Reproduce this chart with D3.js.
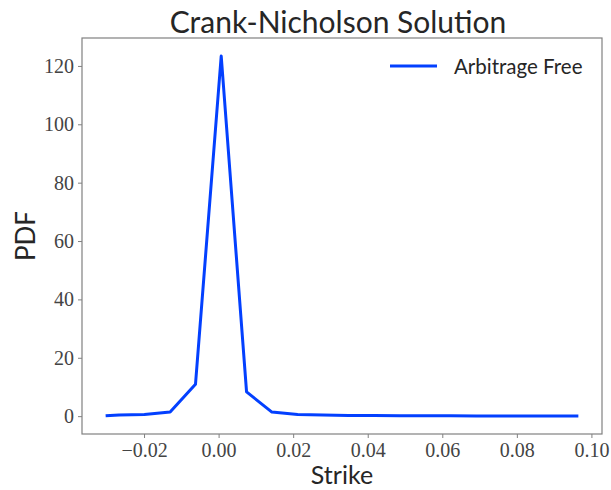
<!DOCTYPE html>
<html>
<head>
<meta charset="utf-8">
<script src="https://cdn.jsdelivr.net/npm/d3@7"></script>
<style>
  body { margin: 0; background: #fff; }
  .tick text { font-family: "Liberation Serif", "DejaVu Serif", serif; fill: #444; }
  .lbl { font-family: Lato, "Open Sans", sans-serif; fill: #262626; }
</style>
</head>
<body>
<div id="chart"></div>
<script>
// chart data
var strike = [-0.0303, -0.0267, -0.0199, -0.0130, -0.0062, 0.0007, 0.0075, 0.0143, 0.0212,
              0.0280, 0.0349, 0.0417, 0.0486, 0.0554, 0.0623, 0.0691, 0.0760, 0.0828, 0.0897, 0.0965];
var pdf = [0.1, 0.4, 0.6, 1.4, 10.9, 123.4, 8.3, 1.4, 0.6,
           0.35, 0.25, 0.2, 0.15, 0.12, 0.1, 0.09, 0.08, 0.07, 0.06, 0.05];
var xTicks = [-0.02, 0.00, 0.02, 0.04, 0.06, 0.08, 0.10];
var yTicks = [0, 20, 40, 60, 80, 100, 120];
var seriesName = "Arbitrage Free";

var svgWidth = 611;
var svgHeight = 490;
var margin = { top: 38, right: 9, bottom: 56, left: 82 };
var width = svgWidth - margin.left - margin.right;
var height = svgHeight - margin.top - margin.bottom;

var svg = d3.select("#chart").append("svg")
    .attr("width", svgWidth)
    .attr("height", svgHeight);

var data = strike.map((s, i) => ({ x: s, y: pdf[i] }));

// matplotlib style 5% padding around the data
var pad = (ext) => { var m = (ext[1] - ext[0]) * 0.05; return [ext[0] - m, ext[1] + m]; };

var x = d3.scaleLinear().domain(pad(d3.extent(strike))).range([0, width]);
var y = d3.scaleLinear().domain(pad(d3.extent(pdf))).range([height, 0]);

var g = svg.append("g").attr("transform", `translate(${margin.left},${margin.top})`);

var fmtX = d => d3.format(".2f")(d).replace("-", "\u2212");

var xAxisG = g.append("g")
    .attr("transform", `translate(0,${height})`)
    .call(d3.axisBottom(x).tickValues(xTicks).tickFormat(fmtX).tickSize(4).tickPadding(5));
var yAxisG = g.append("g")
    .call(d3.axisLeft(y).tickValues(yTicks).tickFormat(d3.format("d")).tickSize(4).tickPadding(4));

[xAxisG, yAxisG].forEach(a => {
    a.select(".domain").remove();
    a.selectAll(".tick line").attr("stroke", "#808080");
    a.selectAll(".tick text").attr("font-size", 20);
});

// frame
g.append("rect")
    .attr("width", width)
    .attr("height", height)
    .attr("fill", "none")
    .attr("stroke", "#808080")
    .attr("stroke-width", 1.2);

// the line
var line = d3.line().x(d => x(d.x)).y(d => y(d.y));
g.append("path")
    .datum(data)
    .attr("fill", "none")
    .attr("stroke", "#0340ff")
    .attr("stroke-width", 3)
    .attr("stroke-linejoin", "round")
    .attr("d", line);

// legend
var leg = g.append("g").attr("transform", `translate(${390 - margin.left},${66 - margin.top})`);
leg.append("line")
    .attr("x1", 0).attr("x2", 47)
    .attr("stroke", "#0340ff")
    .attr("stroke-width", 3);
leg.append("text")
    .attr("class", "lbl")
    .attr("x", 64)
    .attr("y", 8)
    .attr("font-size", 20.5)
    .text(seriesName);

// title and axis labels
svg.append("text")
    .attr("class", "lbl")
    .attr("x", margin.left + width / 2 - 4)
    .attr("y", 33)
    .attr("text-anchor", "middle")
    .attr("font-size", 30)
    .text("Crank-Nicholson Solution");

svg.append("text")
    .attr("class", "lbl")
    .attr("x", margin.left + width / 2)
    .attr("y", 484)
    .attr("text-anchor", "middle")
    .attr("font-size", 25)
    .text("Strike");

svg.append("text")
    .attr("class", "lbl")
    .attr("transform", `translate(35,${margin.top + height / 2}) rotate(-90)`)
    .attr("text-anchor", "middle")
    .attr("font-size", 26)
    .text("PDF");
</script>
</body>
</html>
